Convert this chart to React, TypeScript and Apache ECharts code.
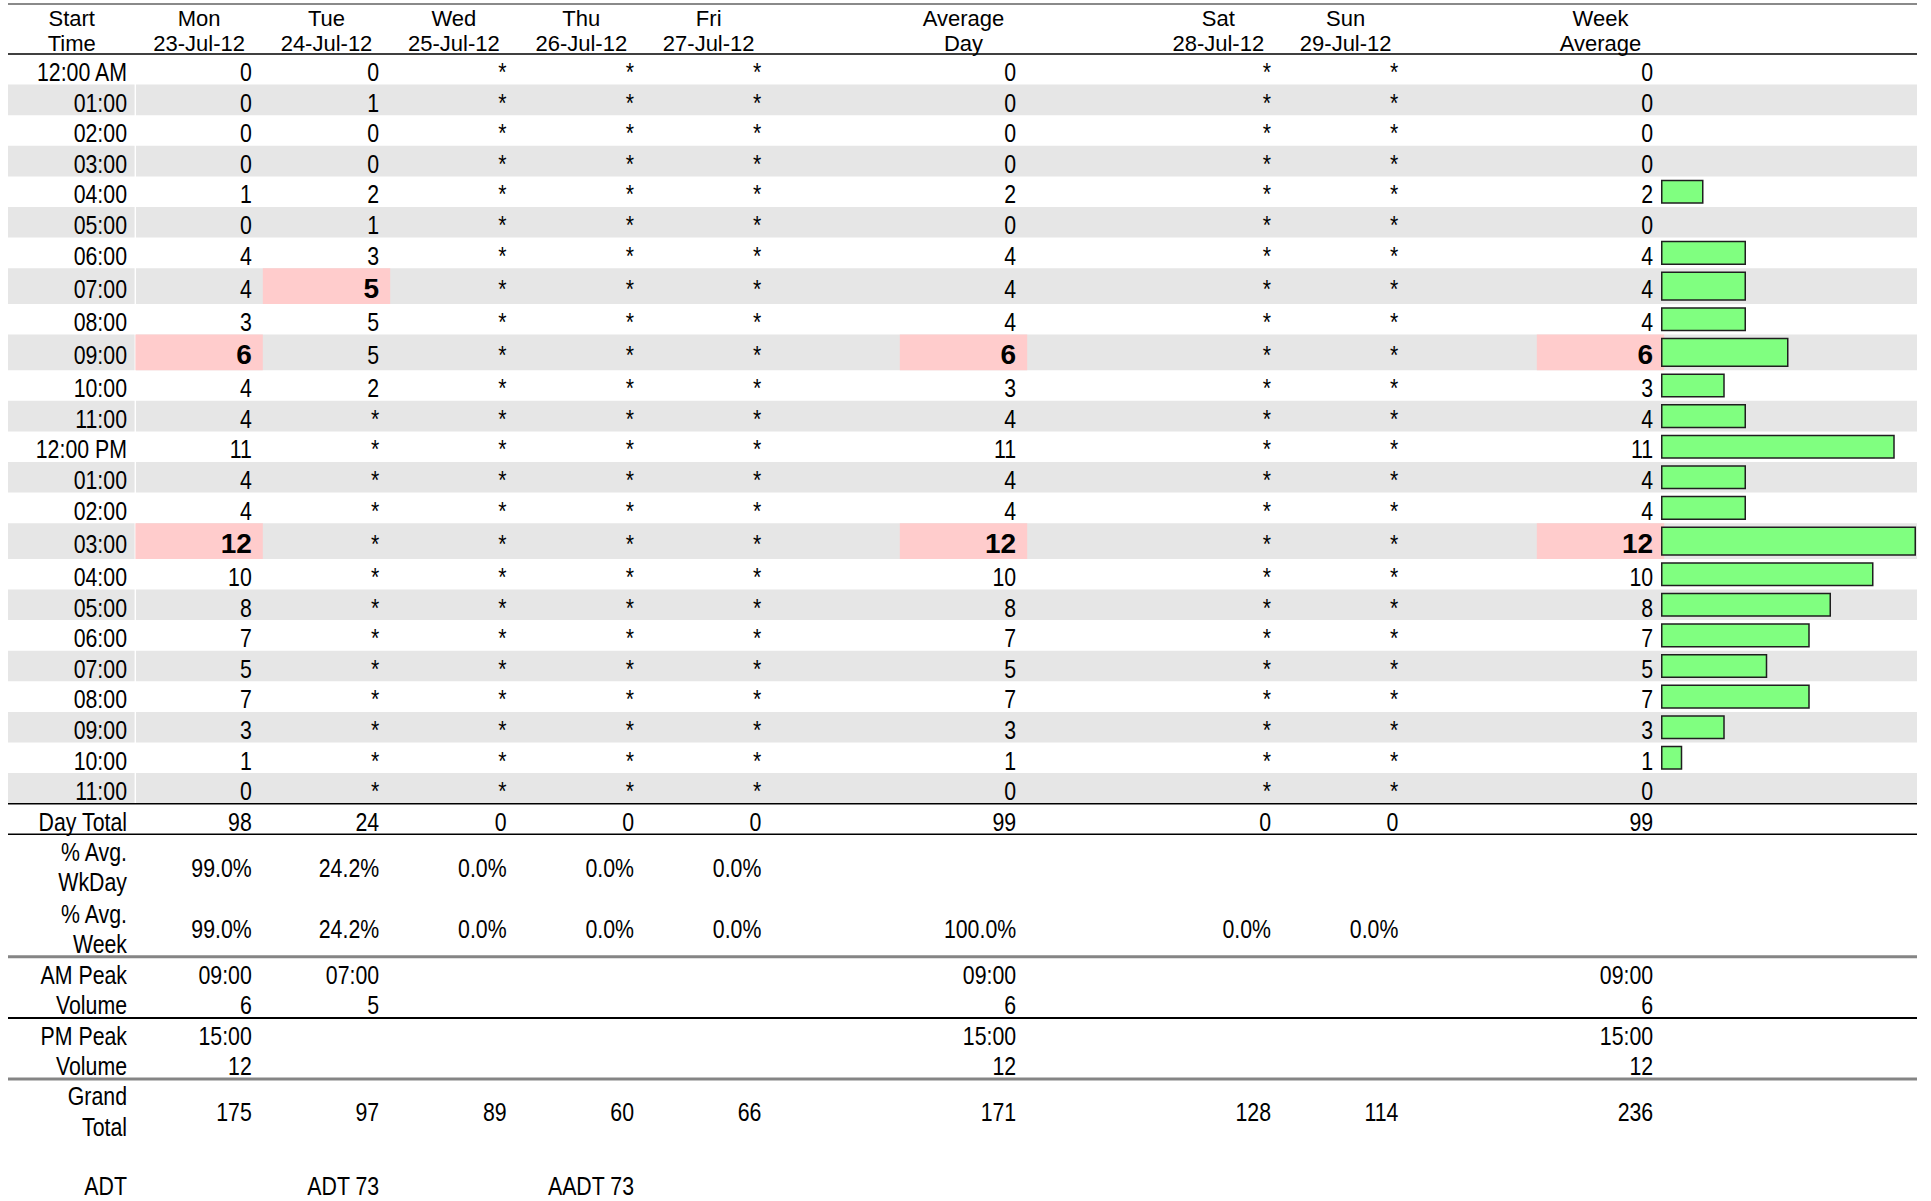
import React, { useEffect, useRef } from "react";
import * as echarts from "echarts";

// ---------------- DATA ----------------
const N = null;
const hourLabels = [
  "12:00 AM", "01:00", "02:00", "03:00", "04:00", "05:00", "06:00", "07:00", "08:00", "09:00", "10:00", "11:00",
  "12:00 PM", "01:00", "02:00", "03:00", "04:00", "05:00", "06:00", "07:00", "08:00", "09:00", "10:00", "11:00",
];
const monValues = [0, 0, 0, 0, 1, 0, 4, 4, 3, 6, 4, 4, 11, 4, 4, 12, 10, 8, 7, 5, 7, 3, 1, 0];
const tueValues = [0, 1, 0, 0, 2, 1, 3, 5, 5, 5, 2, N, N, N, N, N, N, N, N, N, N, N, N, N];
const wedValues = [N, N, N, N, N, N, N, N, N, N, N, N, N, N, N, N, N, N, N, N, N, N, N, N];
const thuValues = [N, N, N, N, N, N, N, N, N, N, N, N, N, N, N, N, N, N, N, N, N, N, N, N];
const friValues = [N, N, N, N, N, N, N, N, N, N, N, N, N, N, N, N, N, N, N, N, N, N, N, N];
const avgDayValues = [0, 0, 0, 0, 2, 0, 4, 4, 4, 6, 3, 4, 11, 4, 4, 12, 10, 8, 7, 5, 7, 3, 1, 0];
const satValues = [N, N, N, N, N, N, N, N, N, N, N, N, N, N, N, N, N, N, N, N, N, N, N, N];
const sunValues = [N, N, N, N, N, N, N, N, N, N, N, N, N, N, N, N, N, N, N, N, N, N, N, N];
const weekAvgValues = [0, 0, 0, 0, 2, 0, 4, 4, 4, 6, 3, 4, 11, 4, 4, 12, 10, 8, 7, 5, 7, 3, 1, 0];

const dayNames = ["Mon", "Tue", "Wed", "Thu", "Fri"];
const dayDates = ["23-Jul-12", "24-Jul-12", "25-Jul-12", "26-Jul-12", "27-Jul-12"];
const weekendNames = ["Sat", "Sun"];
const weekendDates = ["28-Jul-12", "29-Jul-12"];
const weekdayGrandTotals = [175, 97, 89, 60, 66];
const avgDayGrandTotal = 171;
const weekendGrandTotals = [128, 114];
const weekGrandTotal = 236;
const adtValue = 73;
const aadtValue = 73;

// ---------------- LAYOUT ----------------
const COLW = 127.4;
const LEFT = 8;
const RIGHT = 1917;
const TOP = 4;
const HEIGHT = 1197;
const UNIT = 30.6;
const X_END = (RIGHT - LEFT) / COLW;
const Y_END = HEIGHT / UNIT;
const ANCHOR = 11 / COLW;
const LABEL_X = (127 - LEFT) / COLW;
const LABEL_BAND_END = (134.6 - LEFT) / COLW;
const DATA_BAND_START = (136 - LEFT) / COLW;
const HEADER_H = 50 / UNIT;
const PEAK_ROW = 35.7 / UNIT;
const TEXT_DY = 0.08;
const BAR_PAD = 0.13;
const NARROW = 0.82;

const FONT_BODY = '"Liberation Sans", Arial, sans-serif';
const FONT_HEAD = '"Liberation Sans", Arial, sans-serif';
const BAND = "#e6e6e6";
const PINK = "#ffcccc";

type Col = {
  pos: number;
  head: [string, string];
  values: (number | null)[];
  grand: number;
  wkday: boolean;
  week: boolean;
};

const columns: Col[] = [
  { pos: 1, head: [dayNames[0], dayDates[0]], values: monValues, grand: weekdayGrandTotals[0], wkday: true, week: true },
  { pos: 2, head: [dayNames[1], dayDates[1]], values: tueValues, grand: weekdayGrandTotals[1], wkday: true, week: true },
  { pos: 3, head: [dayNames[2], dayDates[2]], values: wedValues, grand: weekdayGrandTotals[2], wkday: true, week: true },
  { pos: 4, head: [dayNames[3], dayDates[3]], values: thuValues, grand: weekdayGrandTotals[3], wkday: true, week: true },
  { pos: 5, head: [dayNames[4], dayDates[4]], values: friValues, grand: weekdayGrandTotals[4], wkday: true, week: true },
  { pos: 7, head: ["Average", "Day"], values: avgDayValues, grand: avgDayGrandTotal, wkday: false, week: true },
  { pos: 9, head: [weekendNames[0], weekendDates[0]], values: satValues, grand: weekendGrandTotals[0], wkday: false, week: true },
  { pos: 10, head: [weekendNames[1], weekendDates[1]], values: sunValues, grand: weekendGrandTotals[1], wkday: false, week: true },
  { pos: 12, head: ["Week", "Average"], values: weekAvgValues, grand: weekGrandTotal, wkday: false, week: false },
];

const sum = (a: (number | null)[]) => a.reduce((s: number, v) => s + (v == null ? 0 : v), 0);
function peakOf(a: (number | null)[], from: number, to: number) {
  let best = -1;
  let idx = -1;
  for (let i = from; i < to; i++) {
    const v = a[i];
    if (v != null && v > best) {
      best = v;
      idx = i;
    }
  }
  return idx < 0 ? null : { idx, value: best };
}
const pad2 = (n: number) => (n < 10 ? "0" + n : "" + n);

type Item = {
  kind: "band" | "text" | "rule";
  x0: number;
  y0: number;
  x1?: number;
  y1?: number;
  text?: string;
  align?: string;
  size?: number;
  family?: string;
  bold?: boolean;
  sx?: number;
  fill?: string;
  lw?: number;
};

function buildOption() {
  const peaks = columns.map((c) => ({ am: peakOf(c.values, 0, 12), pm: peakOf(c.values, 12, 24) }));
  const peakRows = new Set<number>();
  peaks.forEach((p) => {
    if (p.am) peakRows.add(p.am.idx);
    if (p.pm) peakRows.add(p.pm.idx);
  });
  const rowTops: number[] = [];
  const rowBots: number[] = [];
  let y = HEADER_H;
  for (let i = 0; i < hourLabels.length; i++) {
    rowTops.push(y);
    y += peakRows.has(i) ? PEAK_ROW : 1;
    rowBots.push(y);
  }
  const hoursEnd = y;

  const bands: Item[] = [];
  const texts: Item[] = [];
  const rules: Item[] = [];
  const band = (x0: number, y0: number, x1: number, y1: number, fill: string) =>
    bands.push({ kind: "band", x0, y0, x1, y1, fill });
  const txt = (x: number, yy: number, s: string, o: Partial<Item> = {}) =>
    texts.push({ kind: "text", x0: x, y0: yy, text: s, align: "right", size: 26, family: FONT_BODY, sx: NARROW, ...o });
  const head = (x: number, yy: number, s: string) =>
    txt(x, yy, s, { align: "center", size: 22, family: FONT_HEAD, sx: 1 });
  const rule = (yy: number, fill: string, lw: number) => rules.push({ kind: "rule", x0: 0, y0: yy, x1: X_END, fill, lw });

  // header
  head(0.5, 0.474, "Start");
  head(0.5, 1.275, "Time");
  columns.forEach((c) => {
    head(c.pos + 0.5, 0.474, c.head[0]);
    head(c.pos + 0.5, 1.275, c.head[1]);
  });

  // hour rows
  hourLabels.forEach((lab, i) => {
    const t = rowTops[i];
    const b = rowBots[i];
    if (i % 2 === 1) {
      band(0, t, LABEL_BAND_END, b, BAND);
      band(DATA_BAND_START, t, X_END, b, BAND);
    }
    const mid = (t + b) / 2 + TEXT_DY;
    txt(LABEL_X, mid, lab);
    columns.forEach((c, ci) => {
      const v = c.values[i];
      const p = peaks[ci];
      const isPeak = (p.am && p.am.idx === i) || (p.pm && p.pm.idx === i);
      if (isPeak) {
        band(c.pos, t, c.pos + 1, b, PINK);
        txt(c.pos + 1 - ANCHOR, mid, String(v), { bold: true, size: 28, family: FONT_HEAD, sx: 1 });
      } else {
        txt(c.pos + 1 - ANCHOR, mid, v == null ? "*" : String(v));
      }
    });
  });

  // summary rows
  const totals = columns.map((c) => sum(c.values));
  const avgTotal = totals[5];
  const weekTotal = totals[8];
  const L1 = 0.58;
  const L2 = 1.56;
  const LM = 1.08;

  const dtTop = hoursEnd;
  txt(LABEL_X, dtTop + 0.5 + TEXT_DY, "Day Total");
  columns.forEach((c, ci) => txt(c.pos + 1 - ANCHOR, dtTop + 0.5 + TEXT_DY, String(totals[ci])));

  const wkTop = dtTop + 1;
  txt(LABEL_X, wkTop + L1, "% Avg.");
  txt(LABEL_X, wkTop + L2, "WkDay");
  columns.forEach((c, ci) => {
    if (c.wkday) txt(c.pos + 1 - ANCHOR, wkTop + LM, ((totals[ci] / avgTotal) * 100).toFixed(1) + "%");
  });

  const weTop = wkTop + 2;
  txt(LABEL_X, weTop + L1, "% Avg.");
  txt(LABEL_X, weTop + L2, "Week");
  columns.forEach((c, ci) => {
    if (c.week) txt(c.pos + 1 - ANCHOR, weTop + LM, ((totals[ci] / weekTotal) * 100).toFixed(1) + "%");
  });

  const amTop = weTop + 2;
  txt(LABEL_X, amTop + L1, "AM Peak");
  txt(LABEL_X, amTop + L2, "Volume");
  const pmTop = amTop + 2;
  txt(LABEL_X, pmTop + L1, "PM Peak");
  txt(LABEL_X, pmTop + L2, "Volume");
  columns.forEach((c, ci) => {
    const p = peaks[ci];
    if (p.am) {
      txt(c.pos + 1 - ANCHOR, amTop + L1, pad2(p.am.idx) + ":00");
      txt(c.pos + 1 - ANCHOR, amTop + L2, String(p.am.value));
    }
    if (p.pm) {
      txt(c.pos + 1 - ANCHOR, pmTop + L1, pad2(p.pm.idx) + ":00");
      txt(c.pos + 1 - ANCHOR, pmTop + L2, String(p.pm.value));
    }
  });

  const gtTop = pmTop + 2;
  txt(LABEL_X, gtTop + 0.55, "Grand");
  txt(LABEL_X, gtTop + 1.54, "Total");
  columns.forEach((c) => txt(c.pos + 1 - ANCHOR, gtTop + 1.05, String(c.grand)));

  const adtY = gtTop + 3.49;
  txt(LABEL_X, adtY, "ADT");
  txt(columns[1].pos + 1 - ANCHOR, adtY, "ADT " + adtValue);
  txt(columns[3].pos + 1 - ANCHOR, adtY, "AADT " + aadtValue);

  // rules
  rule(0, "#8a8a8a", 2);
  rule(HEADER_H, "#000", 1.5);
  rule(hoursEnd, "#000", 1.5);
  rule(dtTop + 1, "#000", 1.5);
  rule(amTop, "#858585", 3);
  rule(pmTop, "#000", 2);
  rule(gtTop, "#858585", 3);

  const items: Item[] = [...bands, ...texts, ...rules];
  const maxBar = Math.max(...(weekAvgValues as number[]));

  return {
    animation: false,
    backgroundColor: "#fff",
    grid: [
      { left: LEFT, top: TOP, width: RIGHT - LEFT, height: HEIGHT, containLabel: false },
      { left: 1661, top: TOP, width: 255, height: HEIGHT, containLabel: false },
    ],
    xAxis: [
      { type: "value", gridIndex: 0, min: 0, max: X_END, show: false },
      { type: "value", gridIndex: 1, min: 0, max: maxBar, show: false },
    ],
    yAxis: [
      { type: "value", gridIndex: 0, min: 0, max: Y_END, inverse: true, show: false },
      { type: "value", gridIndex: 1, min: 0, max: Y_END, inverse: true, show: false },
    ],
    series: [
      {
        type: "custom",
        xAxisIndex: 0,
        yAxisIndex: 0,
        silent: true,
        data: items.map((it) => [it.x0, it.y0]),
        renderItem: (params: any, api: any) => {
          const it = items[params.dataIndex];
          if (it.kind === "band") {
            const p0 = api.coord([it.x0, it.y0]);
            const p1 = api.coord([it.x1, it.y1]);
            return {
              type: "rect",
              shape: { x: p0[0], y: p0[1], width: p1[0] - p0[0], height: p1[1] - p0[1] },
              style: { fill: it.fill },
            };
          }
          if (it.kind === "rule") {
            const p0 = api.coord([it.x0, it.y0]);
            const p1 = api.coord([it.x1, it.y0]);
            return {
              type: "line",
              shape: { x1: p0[0], y1: p0[1], x2: p1[0], y2: p1[1] },
              style: { stroke: it.fill, lineWidth: it.lw },
            };
          }
          const p = api.coord([it.x0, it.y0]);
          return {
            type: "text",
            x: p[0],
            y: p[1],
            scaleX: it.sx,
            style: {
              text: it.text,
              fill: "#000",
              align: it.align,
              verticalAlign: "middle",
              fontSize: it.size,
              fontFamily: it.family,
              fontWeight: it.bold ? "bold" : "normal",
            },
          };
        },
      },
      {
        type: "custom",
        xAxisIndex: 1,
        yAxisIndex: 1,
        silent: true,
        data: weekAvgValues.map((v, i) => [v, rowTops[i]]),
        renderItem: (params: any, api: any) => {
          const i = params.dataIndex;
          const v = api.value(0);
          if (!v) return null;
          const p0 = api.coord([0, rowTops[i] + BAR_PAD]);
          const p1 = api.coord([v, rowBots[i] - BAR_PAD]);
          return {
            type: "rect",
            shape: { x: p0[0] + 0.75, y: p0[1], width: p1[0] - p0[0] - 1.5, height: p1[1] - p0[1] },
            style: { fill: "#80ff80", stroke: "#1f1f1f", lineWidth: 1.5 },
          };
        },
      },
    ],
  };
}

export default function App() {
  const ref = useRef<HTMLDivElement>(null);
  useEffect(() => {
    const chart = echarts.init(ref.current as HTMLDivElement, null, { renderer: "svg" });
    chart.setOption(buildOption() as any);
    return () => chart.dispose();
  }, []);
  return (
    <div
      ref={ref}
      style={{ position: "absolute", left: 0, top: 0, width: 1931, height: 1201, background: "#fff" }}
    />
  );
}
